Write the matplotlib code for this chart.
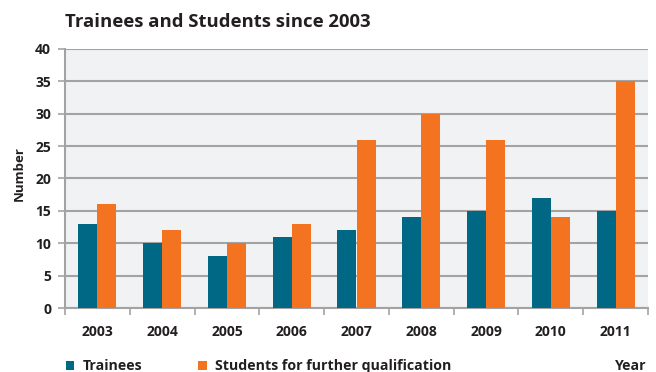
import numpy as np
import matplotlib.pyplot as plt

# chart data
years = ["2003", "2004", "2005", "2006", "2007", "2008", "2009", "2010", "2011"]
trainees = [13, 10, 8, 11, 12, 14, 15, 17, 15]
students = [16, 12, 10, 13, 26, 30, 26, 14, 35]

TEAL = "#006884"
ORANGE = "#f37321"
GRID = "#a3a3a3"
TEXT = "#231f20"

plt.rcParams["font.family"] = ["Open Sans", "DejaVu Sans"]
plt.rcParams["font.weight"] = "bold"

fig = plt.figure(figsize=(6.56, 3.72), dpi=100)
ax = fig.add_axes([65 / 656, 64 / 372, 583 / 656, 259 / 372])
ax.set_facecolor("#f1f2f4")

x = np.arange(len(years))
w = 0.295
ax.bar(x - w / 2, trainees, width=w, color=TEAL, zorder=3, label="Trainees")
ax.bar(x + w / 2, students, width=w, color=ORANGE, zorder=3,
       label="Students for further qualification")

ax.set_xlim(-0.5, len(years) - 0.5)
ax.set_ylim(0, 40)
ax.set_yticks(np.arange(0, 41, 5))
ax.yaxis.grid(True, color=GRID, linewidth=1.5, zorder=1)
ax.set_axisbelow(True)

# category labels in the middle, tick marks on the boundaries
ax.set_xticks(x)
ax.set_xticklabels(years)
ax.set_xticks(np.arange(-0.5, len(years), 1), minor=True)
ax.tick_params(axis="x", which="major", length=0, pad=12, labelsize=10, labelcolor=TEXT)
ax.tick_params(axis="x", which="minor", length=5, width=1.2, color=GRID, direction="out")
ax.tick_params(axis="y", length=5, width=1.2, color=GRID, pad=5, labelsize=10, labelcolor=TEXT)

for side in ["top", "right"]:
    ax.spines[side].set_visible(False)
for side in ["left", "bottom"]:
    ax.spines[side].set_color(GRID)
    ax.spines[side].set_linewidth(1.5)

ax.set_ylabel("Number", fontsize=9.5, fontweight="bold", color=TEXT)
ax.yaxis.set_label_coords(-0.068, 0.52)

fig.text(65 / 656, 1 - 22 / 372, "Trainees and Students since 2003", fontsize=13.3,
         fontweight="bold", color=TEXT, va="center", ha="left")

handles, labels = ax.get_legend_handles_labels()
fig.legend(handles, labels, loc="center left", bbox_to_anchor=(53 / 656, 1 - 366 / 372),
           ncol=2, frameon=False, fontsize=10.2, handlelength=0.6, handleheight=0.6,
           handletextpad=0.6, columnspacing=3.95, labelcolor=TEXT)

fig.text(647 / 656, 1 - 366 / 372, "Year", fontsize=10.2, fontweight="bold",
         color=TEXT, ha="right", va="center")

fig.savefig("out.png", dpi=100)
